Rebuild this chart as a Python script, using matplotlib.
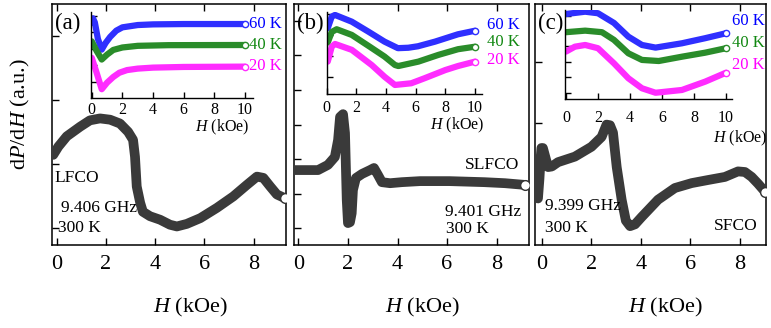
import matplotlib
matplotlib.use('Agg')
import matplotlib.pyplot as plt

plt.rcParams['font.family'] = 'serif'
plt.rcParams['font.serif'] = ['Liberation Serif', 'DejaVu Serif']
plt.rcParams['mathtext.fontset'] = 'custom'
plt.rcParams['mathtext.rm'] = 'Liberation Serif'
plt.rcParams['mathtext.it'] = 'Liberation Serif:italic'

W, H_PX = 771, 328

# ---- main spectra at 300 K (arbitrary units) ----
H_a = [-0.14, 0.07, 0.41, 0.95, 1.35, 1.76, 2.17, 2.57, 2.9, 3.1, 3.18, 3.25, 3.39, 3.5,
       3.79, 4.2, 4.6, 4.88, 5.28, 5.83, 6.5, 7.17, 7.72, 8.13, 8.39, 8.67, 8.94, 9.28]
y_a = [1.14, 1.27, 1.43, 1.58, 1.68, 1.71, 1.69, 1.63, 1.50, 1.375, 1.11, 0.645, 0.39, 0.25,
       0.18, 0.125, 0.047, 0.02, 0.06, 0.15, 0.31, 0.49, 0.67, 0.80, 0.78, 0.645, 0.52, 0.46]

H_b = [-0.21, 0.79, 1.19, 1.47, 1.6, 1.68, 1.8, 1.88, 1.95, 2.0, 2.08, 2.15, 2.2, 2.32,
       2.57, 2.89, 3.05, 3.21, 3.37, 3.7, 4.18, 4.91, 6.1, 7.5, 8.34, 9.15]
y_b = [1.68, 1.68, 1.83, 2.06, 2.55, 3.22, 3.30, 2.75, 0.81, 0.145, 0.17, 0.43, 1.10, 1.45,
       1.57, 1.68, 1.74, 1.54, 1.33, 1.30, 1.33, 1.36, 1.36, 1.33, 1.30, 1.25]

H_c = [-0.21, -0.16, -0.1, -0.05, -0.02, 0.04, 0.14, 0.25, 0.4, 0.65, 1.33, 2.0, 2.41,
       2.61, 2.75, 2.87, 3.02, 3.22, 3.39, 3.56, 3.76, 4.03, 4.69, 5.37, 6.05, 6.71,
       7.39, 7.92, 8.2, 8.47, 8.73, 9.01]
y_c = [-0.17, -0.22, 0.1, 0.45, 0.6, 0.6, 0.45, 0.29, 0.3, 0.37, 0.46, 0.62, 0.78,
       0.98, 0.97, 0.85, 0.29, -0.24, -0.58, -0.67, -0.64, -0.52, -0.24, -0.05, 0.03, 0.08,
       0.13, 0.22, 0.21, 0.13, 0.02, -0.11]

# ---- inset spectra, 60/40/20 K ----
ia_H60 = [0, 0.08, 0.2, 0.4, 0.65, 0.9, 1.2, 1.6, 2.0, 3.0, 4.0, 6.0, 8.0, 10.0]
ia_y60 = [4.6, 4.85, 4.6, 3.6, 2.95, 3.35, 3.72, 4.1, 4.3, 4.44, 4.48, 4.5, 4.5, 4.5]
ia_H40 = [0, 0.3, 0.65, 1.0, 1.4, 2.0, 3.0, 5.0, 10.0]
ia_y40 = [3.45, 2.9, 2.35, 2.65, 2.93, 3.08, 3.18, 3.22, 3.23]
ia_H20 = [0, 0.3, 0.65, 1.0, 1.4, 1.8, 2.3, 3.0, 4.0, 6.0, 10.0]
ia_y20 = [2.45, 1.6, 0.55, 0.95, 1.29, 1.55, 1.71, 1.8, 1.86, 1.9, 1.92]

ib_H60 = [0.07, 0.34, 0.56, 1.69, 2.8, 3.9, 4.8, 5.5, 6.15, 7.3, 8.85, 10.0]
ib_y60 = [3.33, 3.88, 3.96, 3.64, 3.17, 2.69, 2.38, 2.4, 2.47, 2.69, 3.04, 3.21]
ib_H40 = [0.07, 0.34, 0.67, 1.69, 2.9, 3.9, 4.6, 4.83, 6.18, 7.53, 8.85, 10.0]
ib_y40 = [2.65, 3.15, 3.28, 3.01, 2.45, 1.98, 1.58, 1.53, 1.74, 2.06, 2.33, 2.45]
ib_H20 = [0.07, 0.34, 0.56, 1.69, 3.03, 3.9, 4.6, 5.7, 6.6, 8.0, 8.85, 10.0]
ib_y20 = [1.74, 2.45, 2.58, 2.3, 1.58, 1.02, 0.63, 0.71, 0.95, 1.34, 1.53, 1.74]

ic_H60 = [0, 1.2, 2.0, 3.0, 3.9, 4.75, 5.6, 7.25, 8.7, 10.0]
ic_y60 = [6.10, 6.25, 6.15, 5.52, 4.63, 4.09, 3.92, 4.2, 4.53, 4.85]
ic_H40 = [0, 1.2, 2.25, 3.0, 3.9, 4.75, 5.8, 7.25, 8.7, 10.0]
ic_y40 = [4.92, 5.02, 4.92, 4.42, 3.55, 3.12, 3.05, 3.33, 3.59, 3.88]
ic_H20 = [0, 0.56, 1.2, 2.0, 3.0, 3.9, 4.75, 5.6, 7.25, 8.7, 10.0]
ic_y20 = [3.66, 3.98, 4.09, 3.88, 2.90, 1.93, 1.28, 0.99, 1.17, 1.71, 2.29]

temps = ['60 K', '40 K', '20 K']
line_cols = ['#2f2fff', '#2a8c2a', '#ff2cff']
text_cols = ['#0000ff', '#118811', '#ff00ff']


def frac(x0, y0, x1, y1):
    return [x0 / W, 1 - y1 / H_PX, (x1 - x0) / W, (y1 - y0) / H_PX]


fig = plt.figure(figsize=(W / 100, H_PX / 100), dpi=100)

panels = [
    dict(box=(52, 4, 286, 245), xlim=(-0.19, 9.31), ylim=(-0.27, 3.5), yt=[0, 1, 2, 3],
         H=H_a, y=y_a, tag='(a)', xl=190),
    dict(box=(294, 4, 529, 245), xlim=(-0.18, 9.31), ylim=(-0.49, 6.49), yt=range(7),
         H=H_b, y=y_b, tag='(b)', xl=422),
    dict(box=(535, 4, 766, 245), xlim=(-0.28, 9.05), ylim=(-0.976, 2.94), yt=[0, 1, 2],
         H=H_c, y=y_c, tag='(c)', xl=665),
]

for p in panels:
    x0, y0, x1, y1 = p['box']
    ax = fig.add_axes(frac(*p['box']))
    ax.plot(p['H'], p['y'], '-', color='#3a3a3a', lw=7, solid_capstyle='round',
            solid_joinstyle='round', zorder=3)
    ax.plot(p['H'][-1], p['y'][-1], 'o', ms=7, mfc='white', mec='#333333', mew=1, zorder=4)
    ax.set_xlim(*p['xlim'])
    ax.set_ylim(*p['ylim'])
    ax.set_xticks([0, 2, 4, 6, 8])
    ax.set_yticks(list(p['yt']))
    ax.tick_params(direction='in', length=5, width=1, top=True, right=False,
                   labelleft=False, labelsize=16, pad=7)
    for s in ax.spines.values():
        s.set_linewidth(1.1)
    ax.set_xlabel(r'$H$ (kOe)', fontsize=16)
    ax.xaxis.set_label_coords((p['xl'] - x0) / (x1 - x0), -0.21)
    ax.text(0.012, 0.965, p['tag'], transform=ax.transAxes, fontsize=16.5, va='top', ha='left')


def ptext(x, y, s, **kw):
    fig.text(x / W, 1 - y / H_PX, s, va='center', **kw)


ptext(20, 114, r'd$P$/d$H$ (a.u.)', rotation=90, ha='center', fontsize=16)

ptext(54, 178, 'LFCO', fontsize=12.5)
ptext(61, 208, '9.406 GHz', fontsize=12.5)
ptext(58, 228, '300 K', fontsize=12.5)
ptext(519, 165, 'SLFCO', fontsize=12.5, ha='right')
ptext(445, 212, '9.401 GHz', fontsize=12.5)
ptext(446, 229, '300 K', fontsize=12.5)
ptext(545, 206, '9.399 GHz', fontsize=12.5)
ptext(545, 228, '300 K', fontsize=12.5)
ptext(758, 226, 'SFCO', fontsize=12.5, ha='right')

insets = [
    dict(box=(91, 12, 253, 98.3), xlim=(-0.05, 10.52), ylim=(0, 5.23), yt=[1, 2, 3, 4, 5],
         data=[(ia_H60, ia_y60), (ia_H40, ia_y40), (ia_H20, ia_y20)],
         lab_x=282, lab_y=[24, 45, 66], xl=(222, 127), pad=3),
    dict(box=(326.7, 12, 482, 94), xlim=(0, 10.47), ylim=(0.2, 4.1), yt=[1, 2, 3, 4],
         data=[(ib_H60, ib_y60), (ib_H40, ib_y40), (ib_H20, ib_y20)],
         lab_x=520, lab_y=[25, 42, 60], xl=(457, 125), pad=4),
    dict(box=(565, 10, 731.7, 99.3), xlim=(-0.06, 10.36), ylim=(0.565, 6.36),
         yt=[1, 2, 3, 4, 5, 6],
         data=[(ic_H60, ic_y60), (ic_H40, ic_y40), (ic_H20, ic_y20)],
         lab_x=765, lab_y=[21, 43, 65], xl=(740, 138), pad=8),
]

for q in insets:
    x0, y0, x1, y1 = q['box']
    ia = fig.add_axes(frac(*q['box']))
    ia.patch.set_alpha(0)
    for (hh, vv), c in zip(q['data'], line_cols):
        ia.plot(hh, vv, '-', color=c, lw=4.5, solid_capstyle='round', solid_joinstyle='round')
        ia.plot(hh[-1], vv[-1], 'o', ms=4.5, mfc='white', mec=c, mew=1)
    ia.set_xlim(*q['xlim'])
    ia.set_ylim(*q['ylim'])
    ia.set_xticks([0, 2, 4, 6, 8, 10])
    ia.set_yticks(q['yt'])
    ia.spines['top'].set_visible(False)
    ia.spines['right'].set_visible(False)
    for s in ('left', 'bottom'):
        ia.spines[s].set_linewidth(1)
    ia.tick_params(direction='in', length=4, width=1, labelleft=False, labelsize=11.5,
                   pad=q['pad'])
    for t, c, ly in zip(temps, text_cols, q['lab_y']):
        ptext(q['lab_x'], ly, t, color=c, fontsize=12, ha='right')
    ptext(q['xl'][0], q['xl'][1], r'$H$ (kOe)', fontsize=11.5, ha='center')

plt.savefig('out.png', dpi=100)
